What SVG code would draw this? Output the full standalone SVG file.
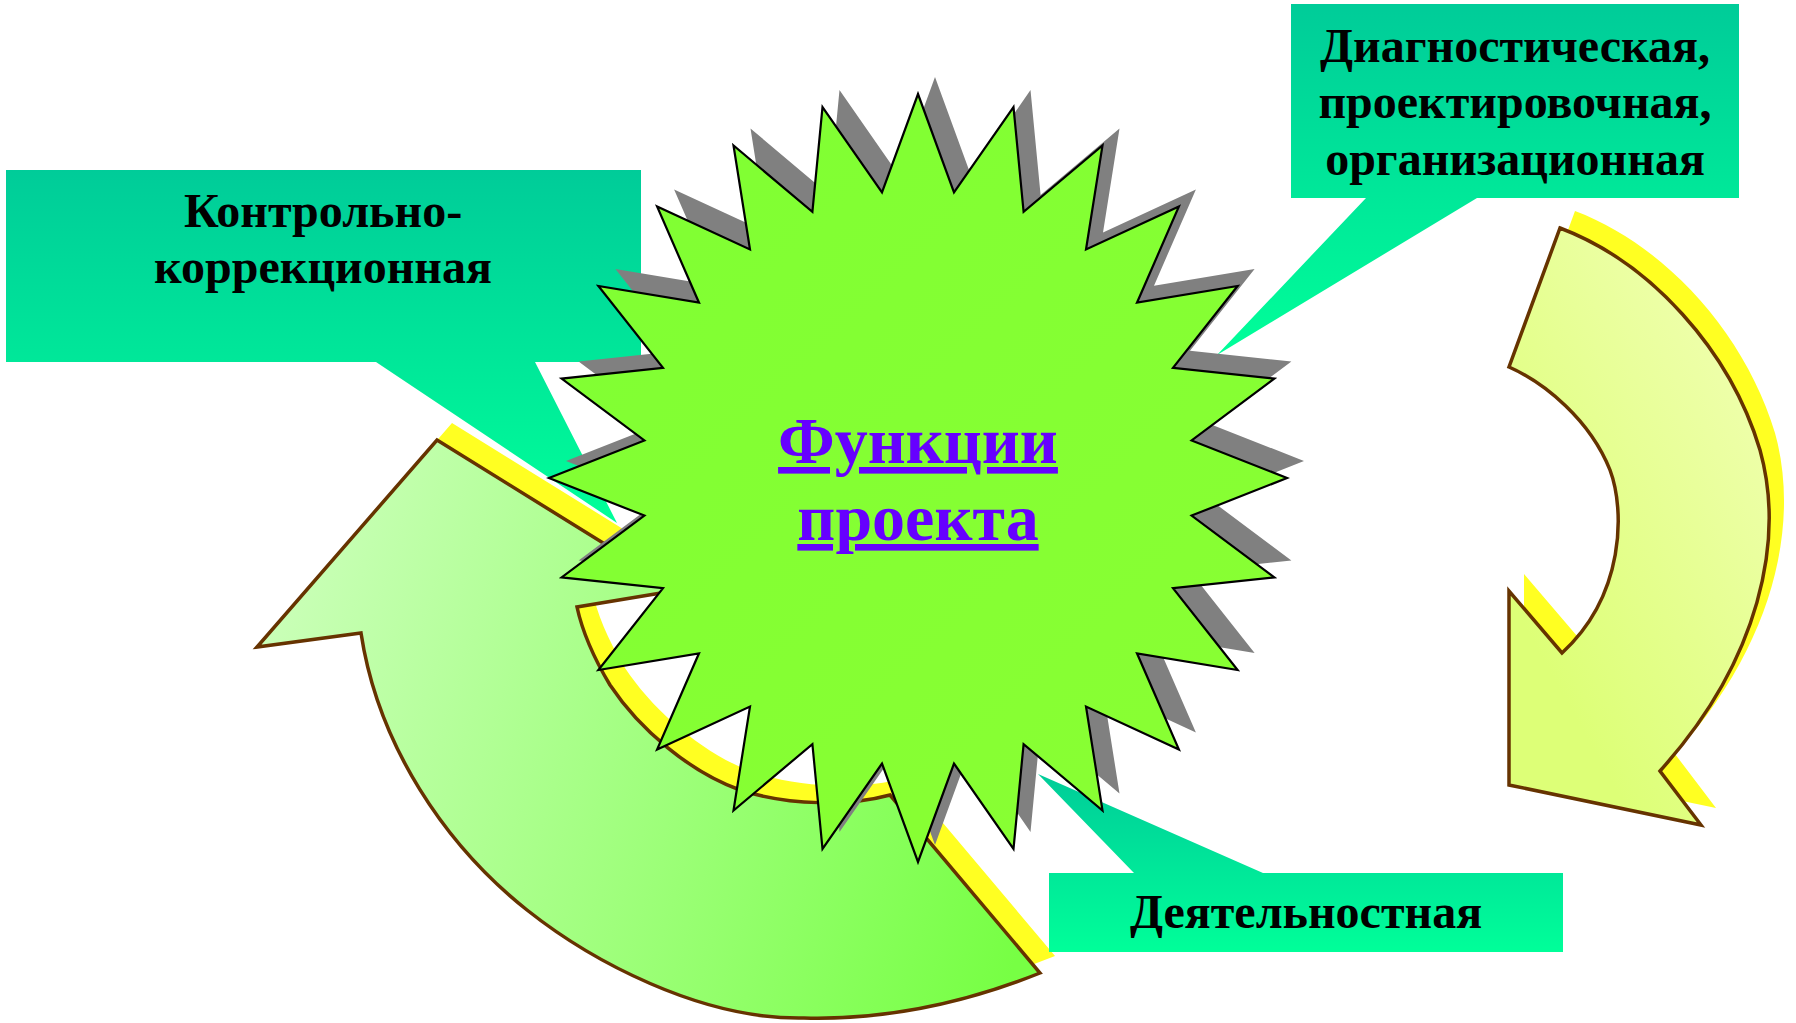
<svg xmlns="http://www.w3.org/2000/svg" xmlns:xlink="http://www.w3.org/1999/xlink" width="1796" height="1023" viewBox="0 0 1796 1023">
<style>
.lbl{font-family:"Liberation Serif","Times New Roman",serif;font-weight:bold;font-size:48px;fill:#000;text-anchor:middle}
.title{font-family:"Liberation Serif","Times New Roman",serif;font-weight:bold;font-size:66px;fill:#6600FF;text-anchor:middle;text-decoration:underline}
.arrow{stroke:#663300;stroke-width:3.5;stroke-linejoin:miter}
.ashadow{fill:#FFFF22;stroke:none}
.star{stroke:#000;stroke-width:2.2;stroke-linejoin:miter}
.sshadow{fill:#808080;stroke:none}
</style>
<defs>
<linearGradient id="gTeal" x1="0" y1="0" x2="0" y2="1">
<stop offset="0" stop-color="#00CC99"/>
<stop offset="1" stop-color="#00FF99"/>
</linearGradient>
<linearGradient id="gGreenArrow" gradientUnits="userSpaceOnUse" x1="250" y1="600" x2="1050" y2="850">
<stop offset="0" stop-color="#CCFFBB"/>
<stop offset="1" stop-color="#77FF44"/>
</linearGradient>
<linearGradient id="gYellowArrow" gradientUnits="userSpaceOnUse" x1="1510" y1="600" x2="1780" y2="450">
<stop offset="0" stop-color="#DDFF77"/>
<stop offset="1" stop-color="#EEFFAA"/>
</linearGradient>
<linearGradient id="gStar" gradientUnits="userSpaceOnUse" x1="550" y1="94" x2="1287" y2="862">
<stop offset="0" stop-color="#7FFF33"/>
<stop offset="1" stop-color="#8AFF33"/>
</linearGradient>
<path id="arrowL" d="M437,440 L679,590 L577,607 C582,630 592,655 610,685 C640,730 690,772 740,790 C790,806 850,806 890,795 L1040,973 C960,1005 880,1020 804,1018 C700,1020 590,960 527,910 C445,845 378,745 361,633 L257,647 Z"/>
<path id="arrowR" d="M1560,228 C1650,262 1730,350 1760,450 C1785,540 1760,660 1660,771 L1701,825 L1509,785 L1509,591 L1562,653 C1625,595 1625,510 1610,470 C1590,420 1545,383 1509,367 Z"/>
<polygon id="starShape" points="918,94 954,192.5 1013.5,107.1 1023.6,211.9 1102.5,145.5 1086,249.5 1178.9,206.5 1137,302.7 1237.6,286 1173,367.8 1274.4,378.6 1191.6,440.4 1287,478 1191.6,515.6 1274.4,577.4 1173,588.2 1237.6,670 1137,653.3 1178.9,749.5 1086,706.5 1102.5,810.5 1023.6,744.1 1013.5,848.9 954,763.5 918,862 882,763.5 822.5,848.9 812.4,744.1 733.5,810.5 750,706.5 657.1,749.5 699,653.3 598.4,670 663,588.2 561.6,577.4 644.4,515.6 549,478 644.4,440.4 561.6,378.6 663,367.8 598.4,286 699,302.7 657.1,206.5 750,249.5 733.5,145.5 812.4,211.9 822.5,107.1 882,192.5"/>
</defs>
<rect width="1796" height="1023" fill="#FFFFFF"/>
<g id="connectors">
<g id="arrow-left">
<use xlink:href="#arrowL" href="#arrowL" class="ashadow" transform="translate(15,-17)"/>
<use xlink:href="#arrowL" href="#arrowL" class="arrow" fill="url(#gGreenArrow)"/>
</g>
<g id="arrow-right">
<use xlink:href="#arrowR" href="#arrowR" class="ashadow" transform="translate(15,-17)"/>
<use xlink:href="#arrowR" href="#arrowR" class="arrow" fill="url(#gYellowArrow)"/>
</g>
</g>
<g id="callout-control">
<path d="M6,170 H641 V362 H535 L617,523 L376,362 H6 Z" fill="url(#gTeal)"/>
<text class="lbl" x="323" y="227">Контрольно-</text>
<text class="lbl" x="323" y="283">коррекционная</text>
</g>
<g id="callout-diagnostic">
<path d="M1291,4 H1739 V198 H1477 L1217,355 L1366,198 H1291 Z" fill="url(#gTeal)"/>
<text class="lbl" x="1515" y="62">Диагностическая,</text>
<text class="lbl" x="1515" y="118">проектировочная,</text>
<text class="lbl" x="1515" y="175">организационная</text>
</g>
<g id="callout-activity">
<path d="M1049,873 H1134 L1038,774 L1263,873 H1563 V952 H1049 Z" fill="url(#gTeal)"/>
<text class="lbl" x="1306" y="928">Деятельностная</text>
</g>
<g id="star">
<use xlink:href="#starShape" href="#starShape" class="sshadow" transform="translate(17,-17)"/>
<use xlink:href="#starShape" href="#starShape" class="star" fill="url(#gStar)"/>
<text class="title" x="918" y="463">Функции</text>
<text class="title" x="918" y="540">проекта</text>
</g>
</svg>
